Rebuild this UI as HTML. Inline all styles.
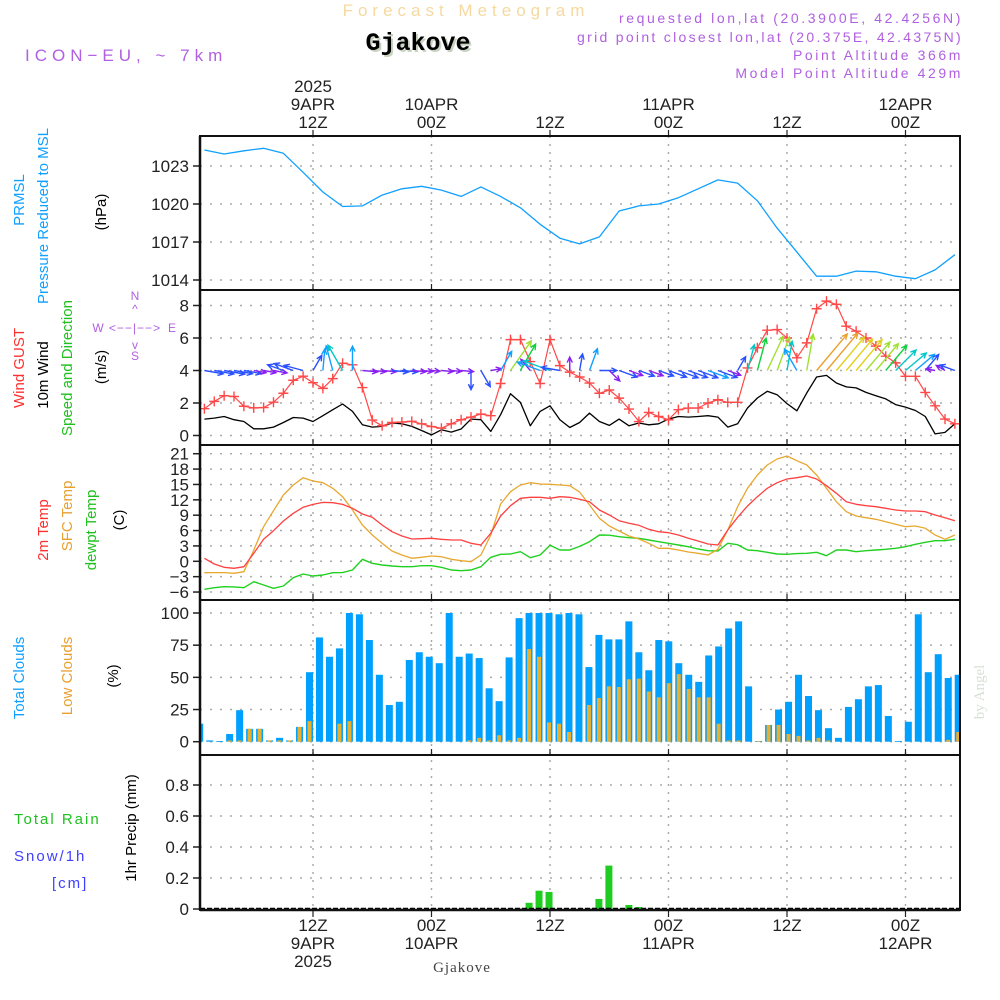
<!DOCTYPE html>
<html><head><meta charset="utf-8"><title>Meteogram Gjakove</title>
<style>
html,body{margin:0;padding:0;background:#fff;}
svg{display:block;font-family:"Liberation Sans",sans-serif;}
</style></head>
<body>
<svg id="chart" width="1000" height="1000" viewBox="0 0 1000 1000">
<rect x="0" y="0" width="1000" height="1000" fill="#fff"/>
<g>
<text x="466" y="16" text-anchor="middle" font-size="17" fill="#f5d9a0" letter-spacing="5">Forecast Meteogram</text>
<text x="418" y="50" text-anchor="middle" font-size="25" font-weight="bold" fill="#c8d4c0" font-family="Liberation Mono, monospace" transform="translate(2,2)">Gjakove</text>
<text x="418" y="50" text-anchor="middle" font-size="25" font-weight="bold" fill="#000" font-family="Liberation Mono, monospace">Gjakove</text>
<text x="25" y="61" font-size="17" fill="#b060e0" letter-spacing="5">ICON−EU, ~ 7km</text>
<text x="963" y="23" text-anchor="end" font-size="14" fill="#b060e0" letter-spacing="2.6">requested lon,lat (20.3900E, 42.4256N)</text>
<text x="963" y="42" text-anchor="end" font-size="14" fill="#b060e0" letter-spacing="2.3">grid point closest lon,lat (20.375E, 42.4375N)</text>
<text x="963" y="60" text-anchor="end" font-size="14" fill="#b060e0" letter-spacing="2.6">Point Altitude 366m</text>
<text x="963" y="78" text-anchor="end" font-size="14" fill="#b060e0" letter-spacing="2.6">Model Point Altitude 429m</text>
</g>
<g font-size="15">
<text transform="translate(24,200) rotate(-90)" text-anchor="middle" fill="#10a0ff">PRMSL</text>
<text transform="translate(48,216) rotate(-90)" text-anchor="middle" fill="#10a0ff">Pressure Reduced to MSL</text>
<text transform="translate(106,212) rotate(-90)" text-anchor="middle" fill="#000">(hPa)</text>
<text transform="translate(24,368) rotate(-90)" text-anchor="middle" fill="#ff3030">Wind GUST</text>
<text transform="translate(48,375) rotate(-90)" text-anchor="middle" fill="#000">10m Wind</text>
<text transform="translate(72,368) rotate(-90)" text-anchor="middle" fill="#20c020">Speed and Direction</text>
<text transform="translate(106,367) rotate(-90)" text-anchor="middle" fill="#000">(m/s)</text>
<g fill="#b060e0" font-size="12">
<text x="135" y="300" text-anchor="middle">N</text><text x="135" y="313" text-anchor="middle">^</text>
<text x="98" y="332" text-anchor="middle">W</text><text x="135" y="332" text-anchor="middle" letter-spacing="1">&lt;−−|−−&gt;</text>
<text x="172" y="332" text-anchor="middle">E</text><text x="135" y="349" text-anchor="middle">v</text>
<text x="135" y="360" text-anchor="middle">S</text></g>
<text transform="translate(48,530) rotate(-90)" text-anchor="middle" fill="#ff3030">2m Temp</text>
<text transform="translate(72,516) rotate(-90)" text-anchor="middle" fill="#e8a030">SFC Temp</text>
<text transform="translate(96,530) rotate(-90)" text-anchor="middle" fill="#20c020">dewpt Temp</text>
<text transform="translate(124,520) rotate(-90)" text-anchor="middle" fill="#000">(C)</text>
<text transform="translate(24,678) rotate(-90)" text-anchor="middle" fill="#10a0ff">Total Clouds</text>
<text transform="translate(72,676) rotate(-90)" text-anchor="middle" fill="#e8a030">Low Clouds</text>
<text transform="translate(118,676) rotate(-90)" text-anchor="middle" fill="#000">(%)</text>
<text x="14" y="824" fill="#20c020" letter-spacing="2">Total  Rain</text>
<text x="14" y="861" fill="#4040ff" letter-spacing="2">Snow/1h</text>
<text x="52" y="888" fill="#4040ff" letter-spacing="2">[cm]</text>
<text transform="translate(136,828) rotate(-90)" text-anchor="middle" fill="#000">1hr Precip (mm)</text>
</g>
<text transform="translate(984,692) rotate(-90)" text-anchor="middle" font-size="15" fill="#d8e0d4" font-family="Liberation Serif, serif">by Angel</text>
<text x="462" y="972" text-anchor="middle" font-size="15" fill="#444" font-family="Liberation Serif, serif" letter-spacing="1">Gjakove</text>
<g id="plot"></g>
</svg>
<script>
const hours = Array.from({length:77},(_,i)=>i+1);
const pressHours = [1,3,5,7,9,11,13,15,17,19,21,23,25,27,29,31,33,35,37,39,41,43,45,47,49,51,53,55,57,59,61,63,65,67,69,71,73,75,77];
const pressure = [1024.26,1023.95,1024.2,1024.4,1024.0,1022.5,1020.95,1019.8,1019.85,1020.7,1021.2,1021.4,1021.1,1020.6,1021.35,1020.6,1019.7,1018.4,1017.3,1016.85,1017.4,1019.45,1019.85,1020.0,1020.5,1021.2,1021.9,1021.65,1020.25,1018.1,1016.2,1014.3,1014.3,1014.7,1014.65,1014.3,1014.1,1014.8,1016.0];
const gust = [1.65,2.1,2.45,2.4,1.8,1.7,1.72,2.05,2.6,3.4,3.65,3.25,2.9,3.5,4.45,4.35,2.95,0.95,0.6,0.8,0.83,0.87,0.72,0.55,0.45,0.72,0.97,1.13,1.32,1.22,3.2,5.9,5.9,4.55,3.2,5.9,4.3,3.9,3.6,3.23,2.6,2.8,2.3,1.63,0.86,1.42,1.17,0.97,1.59,1.69,1.69,2.0,2.2,2.04,2.04,4.16,5.4,6.48,6.52,6.0,4.78,5.7,7.8,8.27,8.07,6.73,6.42,6.0,5.5,4.88,4.47,3.64,3.64,2.65,1.83,1.01,0.72];
const wind10 = [1.01,1.07,1.17,0.97,0.86,0.41,0.41,0.52,0.8,1.11,1.07,0.86,1.22,1.59,1.94,1.48,0.66,0.52,0.56,0.77,0.72,0.56,0.31,0.04,0.35,0.21,0.4,1.01,0.97,0.25,1.28,2.57,2.04,0.6,1.48,1.83,0.97,0.49,0.8,1.38,0.86,0.62,1.01,0.6,0.77,0.66,0.72,1.01,1.17,1.13,1.17,1.22,1.13,0.52,0.72,1.69,2.31,2.72,2.51,1.96,1.52,2.62,3.6,3.7,3.23,2.99,2.93,2.65,2.45,2.25,1.9,1.75,1.54,1.17,0.1,0.19,0.72];
const windDir = [100,100,100,100,100,100,100,100,290,290,285,30,5,345,330,0,95,95,95,95,95,95,95,95,95,95,95,180,150,80,30,35,30,320,290,290,280,0,10,20,90,135,110,110,110,110,110,110,110,110,110,110,110,110,30,15,15,25,20,10,330,10,40,40,40,40,40,40,40,40,45,50,50,40,280,300,290];
const temp2m = [0.58,-0.53,-1.18,-1.37,-1.05,1.56,4.3,5.97,7.87,9.37,10.54,11.1,11.5,11.44,11.1,10.34,9.23,8.58,7.09,5.78,4.94,4.35,4.41,4.49,4.29,4.16,4.16,3.51,3.18,5.47,8.84,10.85,12.3,12.49,12.49,12.3,12.61,12.49,12.1,11.63,10.01,9.04,7.93,7.41,7.03,6.25,5.78,5.58,5.13,4.49,3.96,3.38,3.18,6.11,8.58,10.79,12.61,14.25,15.34,16.06,16.32,16.65,16.06,14.76,13.27,11.63,11.12,10.85,10.66,10.34,10.01,9.82,9.82,9.68,9.04,8.51,7.93];
const sfcTemp = [-2.22,-2.2,-2.2,-2.35,-2.03,2.2,6.75,9.88,12.94,14.9,16.32,15.67,15.34,14.25,12.61,10.01,7.09,5.13,3.51,2.01,1.23,0.58,0.78,1.03,0.9,0.39,0.12,-0.08,1.23,5.13,11.18,13.59,14.9,15.34,15.09,15.03,14.9,14.76,13.5,11.0,8.4,6.89,5.91,4.94,4.35,3.51,2.54,2.54,2.2,1.82,1.56,1.23,2.34,6.11,10.66,14.25,16.85,18.8,19.97,20.55,19.64,18.8,16.85,14.25,11.63,9.68,8.84,8.51,8.2,7.73,7.22,6.75,6.89,6.44,5.13,4.29,5.13];
const dewpt = [-5.47,-5.15,-4.96,-5.0,-5.15,-3.98,-4.63,-5.27,-4.82,-3.2,-2.48,-2.87,-2.67,-2.22,-2.2,-1.7,0.39,-0.39,-0.72,-0.92,-1.05,-1.05,-0.86,-0.86,-1.18,-1.7,-1.83,-1.7,-1.05,0.78,1.37,1.43,1.87,0.7,1.23,3.12,2.2,2.2,2.9,3.83,5.13,5.1,4.8,4.61,4.49,4.16,3.83,3.51,3.18,2.85,2.4,2.07,2.01,3.51,3.24,2.2,2.07,1.76,1.43,1.37,1.5,1.56,1.76,1.09,2.2,2.2,1.87,2.07,2.2,2.34,2.54,2.85,3.32,3.71,4.02,4.02,4.29];
const totalClouds = [14,1,0.5,6,24.5,10,10,1,3,1,11.5,54,81,66,72.5,100,99,79,52,28.5,31,63.5,69.5,66,61,100,66,68.5,65,41.5,31.5,65.5,96,100,100,100,99,100,99,58,83,79.5,79.5,93.5,69.5,55.5,79,78,61,52,46.5,67,74,88,93.5,43,0.5,13,25,31,52,35.5,24.5,10.5,3,27,33,43,44,20,0.5,15.5,99,54,68,49.5,52];
const lowClouds = [0,0,0,1,1,10,10,1,1,1,11.5,16,0,0,14,16,0,0,0,0,0,0,0,0,0,0,0,1,3,1,5,1,3,72,66,15,14,7.5,0,28.5,34,43,42.5,48.5,49,39,34.5,45.5,52.5,41,34.5,34.5,14,1,1,0,0.5,13,13,6,4.5,1,3,1,0,0,0,0,0,0,0,0,0,0,0,1.5,7.5];
const precip = [0,0,0,0,0,0,0,0,0,0,0,0,0,0,0,0,0,0,0,0,0,0,0,0,0,0,0,0,0,0,0,0,0,0.04,0.118,0.11,0,0,0,0,0.065,0.28,0,0.026,0.013,0,0,0,0,0,0,0,0,0,0,0,0,0,0,0,0,0,0,0,0,0,0,0,0,0,0,0,0,0,0,0,0];
const pressTicks = [1023,1020,1017,1014];
const windTicks = [0,2,4,6,8];
const tempTicks = [21,18,15,12,9,6,3,0,-3,-6];
const cloudTicks = [0,25,50,75,100];
const precipTicks = [0,0.2,0.4,0.6,0.8];
const timeGridHours = [12,24,36,48,60,72];
const topLabels = [["2025","9APR","12Z"],["","10APR","00Z"],["","","12Z"],["","11APR","00Z"],["","","12Z"],["","12APR","00Z"]];
const bottomLabels = [["12Z","9APR","2025"],["00Z","10APR",""],["12Z","",""],["00Z","11APR",""],["12Z","",""],["00Z","12APR",""]];

const NS='http://www.w3.org/2000/svg';
const plot=document.getElementById('plot');
function mk(tag,attrs,parent){const e=document.createElementNS(NS,tag);for(const k in attrs)e.setAttribute(k,attrs[k]);(parent||plot).appendChild(e);return e;}
const X0=200,X1=960;
function xT(h){return 313+(h-12)*9.875;}
function xB(h){return 309.5+(h-12)*9.98;}
const yP=v=>166+(1023-v)*38/3;
const yW=v=>435.5-v*16.25;
const yT=v=>561.3-v*5.123;
const yC=v=>741.7-v*1.287;
const yR=v=>909-v*155;
const panels=[[136,290,'pressure'],[290,445,'wind'],[445,600,'temperature'],[600,755,'clouds'],[755,910,'precip']];

const defs=mk('defs',{});
panels.forEach((p,i)=>{const c=mk('clipPath',{id:'clip'+i},defs);mk('rect',{x:X0,y:p[0],width:X1-X0,height:p[1]-p[0]},c);});

const grid=mk('g',{});


function hgrid(ticks,yf,fmt,name){
  ticks.forEach(t=>{
    const y=yf(t);
    const l=mk('line',{x1:X0,x2:X1,y1:y,y2:y,stroke:'#aaa','stroke-width':1.5,'stroke-dasharray':'2,8'},grid);
    
    
    mk('line',{x1:193,x2:200,y1:y,y2:y,stroke:'#222','stroke-width':1.5},grid);
    const tx=mk('text',{x:189,y:y+6,'text-anchor':'end','font-size':17,fill:'#222'},grid);
    tx.textContent=fmt(t);
    
    
  });
}
hgrid(pressTicks,yP,t=>String(t),'pressure');
hgrid(windTicks,yW,t=>String(t),'wind');
hgrid(tempTicks,yT,t=>t<0?'−'+(-t):String(t),'temp');
hgrid(cloudTicks,yC,t=>String(t),'cloud');
hgrid(precipTicks,yR,t=>t===0?'0':t.toFixed(1),'precip');
timeGridHours.forEach((h,i)=>{
  const x=xT(h);
  const l=mk('line',{x1:x,x2:x,y1:136,y2:910,stroke:'#aaa','stroke-width':1.5,'stroke-dasharray':'2,6'},grid);
  
  
  panels.forEach(p=>{mk('line',{x1:x,x2:x,y1:p[0]-6,y2:p[0],stroke:'#222','stroke-width':1.2},grid);});
  mk('line',{x1:x,x2:x,y1:910,y2:917,stroke:'#222','stroke-width':1.2},grid);
  topLabels[i].forEach((s,k)=>{if(!s)return;const t=mk('text',{x:x,y:92+k*18,'text-anchor':'middle','font-size':17,fill:'#222'},grid);t.textContent=s;
    
    });
  bottomLabels[i].forEach((s,k)=>{if(!s)return;const t=mk('text',{x:x,y:931+k*18,'text-anchor':'middle','font-size':17,fill:'#222'},grid);t.textContent=s;
    
    });
});

function line(xs,ys,color,w,clip,name){
  const d=xs.map((x,i)=>(i?'L':'M')+x.toFixed(1)+','+ys[i].toFixed(1)).join('');
  const p=mk('path',{d:d,fill:'none',stroke:color,'stroke-width':w,'clip-path':'url(#clip'+clip+')','stroke-linejoin':'round'});
  
  
  return p;
}
line(pressHours.map(xT),pressure.map(yP),'#10a0ff',1.3,0,'pressure-line');
line(hours.map(xT),wind10.map(yW),'#000',1.3,1,'wind10-line');
line(hours.map(xT),gust.map(yW),'#ff4848',1.2,1,'gust-line');
const gm=mk('g',{'clip-path':'url(#clip1)'});


hours.forEach((h,i)=>{const x=xT(h),y=yW(gust[i]);
  mk('path',{d:`M${x-5},${y}H${x+5}M${x},${y-5}V${y+5}`,stroke:'#ff4848','stroke-width':1.4},gm);});
function spdColor(s){if(s<0.7)return'#8a20f0';if(s<1.2)return'#2850ff';if(s<1.6)return'#10a0ff';if(s<2)return'#00c8c8';if(s<2.4)return'#10d040';if(s<2.8)return'#a0e030';if(s<3.3)return'#e0d020';return'#e8a030';}
const arrows=mk('g',{'clip-path':'url(#clip1)'});


hours.forEach((h,i)=>{
  const s=wind10[i],a=windDir[i]*Math.PI/180,L=8+11*s;
  const x0=xT(h),y0=yW(4),x1=x0+Math.sin(a)*L,y1=y0-Math.cos(a)*L;
  const c=spdColor(s),hl=6;
  const b1=a+Math.PI-0.45,b2=a+Math.PI+0.45;
  const d=`M${x0},${y0}L${x1},${y1}M${x1+Math.sin(b1)*hl},${y1-Math.cos(b1)*hl}L${x1},${y1}L${x1+Math.sin(b2)*hl},${y1-Math.cos(b2)*hl}`;
  const p=mk('path',{d:d,stroke:c,'stroke-width':1.4,fill:'none'},arrows);
  
  
});
line(hours.map(xT),dewpt.map(yT),'#20d020',1.4,2,'dewpoint-line');
line(hours.map(xT),sfcTemp.map(yT),'#e8a830',1.3,2,'sfc-temp-line');
line(hours.map(xT),temp2m.map(yT),'#ff4040',1.3,2,'temp2m-line');
const cg=mk('g',{'clip-path':'url(#clip3)'});


hours.forEach((h,i)=>{
  const x=xB(h);
  const v=totalClouds[i];
  const r=mk('rect',{x:x-3.5,y:yC(v),width:7,height:Math.max(yC(0)-yC(v),0.8),fill:'#00a0ff'},cg);
  
  
  const lv=lowClouds[i];
  if(lv>0){const r2=mk('rect',{x:x-2,y:yC(lv),width:4,height:Math.max(yC(0)-yC(lv),0.8),fill:'#e8b030'},cg);
    
    }
});
const pg=mk('g',{'clip-path':'url(#clip4)'});


hours.forEach((h,i)=>{const v=precip[i];if(v<=0)return;const x=xB(h);
  const r=mk('rect',{x:x-3.5,y:yR(v),width:7,height:yR(0)-yR(v),fill:'#20cc20'},pg);
  
  });
mk('line',{x1:X0,x2:X1,y1:908.5,y2:908.5,stroke:'#000','stroke-width':1.5,'stroke-dasharray':'5,2'});
panels.forEach(p=>{
  const r=mk('rect',{x:X0,y:p[0],width:X1-X0,height:p[1]-p[0],fill:'none',stroke:'#111','stroke-width':2});
  
  
});
mk('line',{x1:X0,x2:X1,y1:910,y2:910,stroke:'#111','stroke-width':2.5});
mk('line',{x1:X0,x2:X0,y1:136,y2:910,stroke:'#111','stroke-width':2.5});
</script>
</body></html>
